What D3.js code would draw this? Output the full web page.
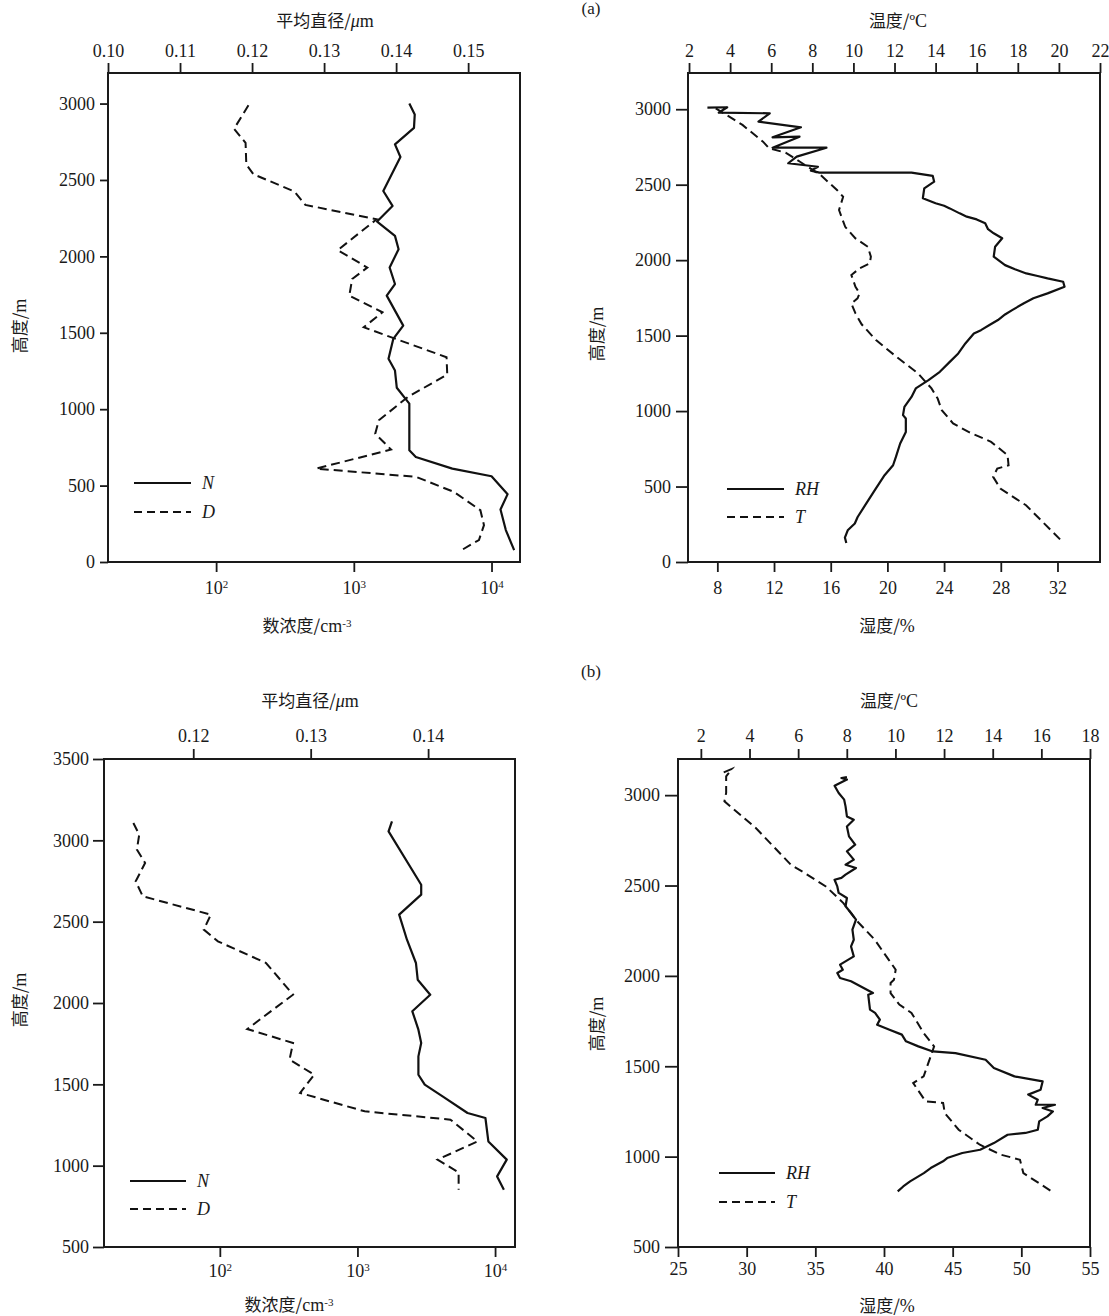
<!DOCTYPE html>
<html>
<head>
<meta charset="utf-8">
<script src="https://cdn.jsdelivr.net/npm/d3@7"></script>
<style>
body { margin: 0; background: #fff; }
svg text { font-family: "Liberation Serif", "Times New Roman", serif; fill: #1a1a1a; }
</style>
</head>
<body>
<svg id="fig" width="1109" height="1316"></svg>
<script>
// ---- data: [value, height(m)] ----
// (a) aerosol: number concentration N (cm^-3) and mean diameter D (um)
const aN = [[2530,3000],[2770,2929],[2735,2841],[1990,2733],[2180,2650],[1637,2428],[1910,2330],
  [1476,2228],[1990,2134],[2114,2047],[1820,1927],[1990,1819],[1734,1743],[2285,1547],[1934,1460],
  [1786,1330],[1990,1253],[2052,1140],[2530,1036],[2530,731],[2820,687],[5190,611],[10000,561],
  [13090,444],[11620,344],[12700,209],[14600,78]];
const aD = [[0.1195,2989],[0.1175,2835],[0.1191,2743],[0.1192,2602],[0.1202,2537],[0.1259,2424],
  [0.1274,2337],[0.1373,2243],[0.1319,2041],[0.1360,1927],[0.1339,1852],[0.1335,1743],[0.1381,1634],
  [0.1355,1536],[0.1470,1340],[0.1471,1227],[0.1416,1079],[0.1376,927],[0.1371,840],[0.1393,736],
  [0.1289,611],[0.1428,557],[0.1480,459],[0.1517,339],[0.1522,241],[0.1515,144],[0.1487,67]];
// (a) meteorology: relative humidity RH (%) and temperature T (degC)
const aRH = [[7.3,3011],[8.7,3013],[8.1,2977],[11.7,2973],[10.9,2918],[13.9,2880],[11.9,2814],
  [13.8,2818],[11.9,2745],[15.7,2745],[13.6,2686],[13.0,2642],[15.1,2619],[14.6,2593],[15.2,2580],
  [21.7,2580],[23.2,2558],[23.3,2520],[22.6,2476],[22.5,2410],[23.4,2377],[24.0,2360],[24.4,2343],
  [25.1,2310],[25.6,2288],[26.3,2270],[26.9,2244],[27.1,2205],[27.5,2178],[28.1,2145],[27.6,2089],
  [27.5,2023],[28.3,1967],[29.0,1940],[29.8,1912],[30.6,1895],[31.3,1879],[32.4,1857],[32.5,1824],
  [31.3,1780],[30.3,1747],[29.6,1713],[28.8,1669],[28.3,1640],[27.8,1603],[27.2,1570],[26.6,1536],
  [26.1,1514],[25.5,1448],[25.0,1382],[24.4,1326],[23.7,1260],[22.9,1205],[22.0,1150],[21.7,1094],
  [21.2,1028],[21.1,973],[21.3,951],[21.3,862],[20.9,785],[20.6,696],[20.4,641],[19.8,575],
  [19.1,475],[18.5,387],[17.9,298],[17.7,255],[17.2,210],[17.0,162],[17.1,126]];
const aT = [[3.3,3006],[4.6,2896],[5.6,2785],[5.9,2741],[6.7,2712],[7.4,2652],[8.4,2564],[9.2,2465],
  [9.5,2420],[9.3,2332],[9.6,2221],[10.1,2144],[10.7,2089],[10.85,2023],[10.8,1979],[10.3,1946],
  [9.9,1901],[10.1,1824],[10.3,1780],[10.2,1747],[9.9,1713],[10.1,1647],[10.4,1575],[11.1,1470],
  [12.1,1359],[13.15,1249],[13.8,1150],[14.1,1083],[14.3,1006],[14.85,918],[15.6,862],[16.7,796],
  [17.5,708],[17.55,641],[17.0,619],[16.8,564],[17.15,487],[17.9,420],[18.4,376],[20.1,144]];
// (b) aerosol
const bN = [[1782,3117],[1683,3055],[2906,2727],[2906,2666],[2010,2543],[2290,2389],[2661,2246],
  [2741,2143],[3380,2051],[2505,1949],[2773,1836],[2906,1754],[2773,1672],[2773,1559],[3083,1498],
  [4156,1426],[6310,1324],[8510,1293],[8940,1149],[12160,1037],[10350,934],[11590,852]];
const bD = [[0.1149,3107],[0.1154,3035],[0.1152,2943],[0.1159,2861],[0.1151,2748],[0.1157,2656],
  [0.1215,2543],[0.1209,2451],[0.1221,2379],[0.1262,2246],[0.1285,2051],[0.1246,1840],[0.1285,1754],
  [0.1282,1652],[0.1303,1559],[0.1291,1447],[0.1346,1334],[0.1419,1283],[0.1442,1149],[0.1408,1037],
  [0.1426,959],[0.1426,852]];
// (b) meteorology
const bRH = [[37.3,3100],[36.9,3095],[37.3,3086],[36.4,3052],[36.7,3012],[37.1,2975],[37.2,2938],
  [37.3,2882],[37.8,2864],[37.3,2827],[37.45,2772],[37.9,2726],[37.3,2689],[37.8,2643],[37.2,2615],
  [37.96,2597],[37.2,2560],[36.9,2542],[36.4,2532],[36.6,2495],[36.7,2459],[37.3,2431],[37.2,2385],
  [37.6,2348],[37.96,2311],[37.7,2256],[37.8,2200],[37.6,2163],[37.8,2108],[36.8,2062],[37.0,2034],
  [36.6,2016],[36.8,1988],[37.6,1970],[39.2,1905],[38.85,1896],[38.98,1813],[39.35,1795],[39.7,1758],
  [39.5,1730],[40.4,1702],[41.3,1675],[41.6,1638],[42.5,1610],[43.55,1582],[45.2,1573],[47.4,1536],
  [48.0,1490],[49.5,1444],[51.55,1416],[51.4,1370],[50.5,1343],[51.2,1315],[51.05,1287],[52.45,1287],
  [51.55,1269],[52.3,1250],[51.9,1223],[51.3,1195],[51.2,1149],[50.3,1131],[49.0,1121],[48.0,1075],
  [47.0,1038],[45.7,1020],[44.6,992],[44.3,974],[43.4,937],[42.9,909],[41.9,863],[41.4,835],[41.0,808]];
const bT = [[2.94,3126],[3.28,3145],[3.04,3104],[3.04,3012],[2.97,2966],[4.26,2818],[5.7,2615],
  [6.27,2569],[7.14,2495],[7.86,2403],[8.43,2302],[9.15,2200],[9.72,2090],[10.01,2034],[9.94,1979],
  [9.8,1961],[9.8,1905],[10.16,1841],[10.66,1795],[11.16,1684],[11.59,1610],[11.45,1555],
  [11.16,1444],[10.73,1407],[11.24,1306],[11.96,1297],[12.03,1241],[12.6,1149],[13.47,1066],
  [14.33,1011],[15.12,983],[15.26,909],[16.42,808]];

// ---- tick values ----
const aTopTicks = [0.10, 0.11, 0.12, 0.13, 0.14, 0.15];
const bTopTicks = [0.12, 0.13, 0.14];
const logTicks = [100, 1000, 10000];
const aTempTicks = d3.range(2, 23, 2);
const bTempTicks = d3.range(2, 19, 2);
const aRHTicks = [8, 12, 16, 20, 24, 28, 32];
const bRHTicks = [25, 30, 35, 40, 45, 50, 55];
const aHeightTicks = d3.range(0, 3001, 500);
const bHeightTicks = d3.range(500, 3501, 500);
const dHeightTicks = d3.range(500, 3001, 500);

const svg = d3.select("#fig");
const serif = '"Liberation Serif","Times New Roman",serif';
const cjk = '"Noto Sans CJK SC","Noto Sans CJK JP",sans-serif';

function styleAxis(g) {
  g.select(".domain").remove();
  g.attr("font-size", 18).attr("font-family", serif);
  g.selectAll(".tick line").attr("stroke", "#1a1a1a").attr("stroke-width", 1.8);
  g.selectAll(".tick text").attr("fill", "#1a1a1a");
}

function powerLabels(g) {
  g.selectAll(".tick text").each(function (d) {
    const t = d3.select(this);
    t.text("10");
    t.append("tspan").attr("dy", "-0.55em").attr("font-size", 11)
      .text(Math.round(Math.log10(d)));
  });
}

function title(x, y, cn, latin, rotate) {
  const t = svg.append("text")
    .attr("text-anchor", "middle")
    .attr("font-size", 17)
    .attr("transform", rotate ? `translate(${x},${y}) rotate(-90)` : `translate(${x},${y})`);
  t.append("tspan").attr("font-family", cjk).text(cn);
  latin.forEach(p => {
    const s = t.append("tspan").attr("font-family", serif).attr("font-size", 18).text(p.t);
    if (p.italic) s.attr("font-style", "italic");
    if (p.sup) s.attr("dy", "-0.5em").attr("font-size", 11);
  });
}

function legend(x1, x2, y, label, dashed) {
  svg.append("line").attr("x1", x1).attr("x2", x2).attr("y1", y).attr("y2", y)
    .attr("stroke", "#111").attr("stroke-width", 2)
    .attr("stroke-dasharray", dashed ? "8,5" : null);
  svg.append("text").attr("x", x2 + 11).attr("y", y + 6)
    .attr("font-size", 18).attr("font-style", "italic").text(label);
}

function panel(c) {
  const y = d3.scaleLinear().domain(c.hDomain).range([c.bottom, c.top]);
  const xTop = d3.scaleLinear().domain(c.topDomain).range([c.left, c.right]);
  const xBot = (c.log ? d3.scaleLog() : d3.scaleLinear()).domain(c.botDomain).range([c.left, c.right]);

  svg.append("g").attr("transform", `translate(0,${c.top})`)
    .call(d3.axisTop(xTop).tickValues(c.topTicks).tickFormat(c.topFmt)
      .tickSize(10).tickPadding(c.topPad).tickSizeOuter(0))
    .call(styleAxis);

  const gb = svg.append("g").attr("transform", `translate(0,${c.bottom})`)
    .call(d3.axisBottom(xBot).tickValues(c.botTicks).tickFormat(c.log ? () => "" : d3.format("d"))
      .tickSize(10).tickPadding(c.botPad).tickSizeOuter(0))
    .call(styleAxis);
  if (c.log) gb.call(powerLabels);

  svg.append("g").attr("transform", `translate(${c.left},0)`)
    .call(d3.axisLeft(y).tickValues(c.hTicks).tickFormat(d3.format("d"))
      .tickSize(c.leftTick).tickPadding(c.leftPad).tickSizeOuter(0))
    .call(styleAxis);

  svg.append("rect")
    .attr("x", c.left).attr("y", c.top)
    .attr("width", c.right - c.left).attr("height", c.bottom - c.top)
    .attr("fill", "none").attr("stroke", "#1a1a1a").attr("stroke-width", 2);

  const solid = d3.line().x(d => xBot(d[0])).y(d => y(d[1]));
  const dash = d3.line().x(d => xTop(d[0])).y(d => y(d[1]));

  svg.append("path").datum(c.solid).attr("d", solid)
    .attr("fill", "none").attr("stroke", "#111").attr("stroke-width", 2.2)
    .attr("stroke-linejoin", "round");
  svg.append("path").datum(c.dashed).attr("d", dash)
    .attr("fill", "none").attr("stroke", "#111").attr("stroke-width", 2)
    .attr("stroke-dasharray", "9,5");
}

// (a) left: aerosol
panel({
  left: 108, right: 520, top: 73, bottom: 562,
  hDomain: [0, 3200], hTicks: aHeightTicks, leftTick: 8, leftPad: 5,
  topDomain: [0.10, 0.1572], topTicks: aTopTicks, topFmt: d3.format(".2f"), topPad: 6,
  log: true, botDomain: [16.4, 16100], botTicks: logTicks, botPad: 9,
  solid: aN, dashed: aD
});
// (a) right: RH and T
panel({
  left: 688, right: 1100, top: 73, bottom: 562,
  hDomain: [0, 3240], hTicks: aHeightTicks, leftTick: 12, leftPad: 5,
  topDomain: [1.95, 22], topTicks: aTempTicks, topFmt: d3.format("d"), topPad: 6,
  log: false, botDomain: [5.93, 35], botTicks: aRHTicks, botPad: 9,
  solid: aRH, dashed: aT
});
// (b) left: aerosol
panel({
  left: 104, right: 515, top: 759, bottom: 1247,
  hDomain: [500, 3500], hTicks: bHeightTicks, leftTick: 11, leftPad: 4,
  topDomain: [0.1124, 0.1474], topTicks: bTopTicks, topFmt: d3.format(".2f"), topPad: 7,
  log: true, botDomain: [14.4, 13960], botTicks: logTicks, botPad: 7,
  solid: bN, dashed: bD
});
// (b) right: RH and T
panel({
  left: 678, right: 1090, top: 759, bottom: 1247,
  hDomain: [500, 3200], hTicks: dHeightTicks, leftTick: 13, leftPad: 5,
  topDomain: [1.06, 18], topTicks: bTempTicks, topFmt: d3.format("d"), topPad: 7,
  log: false, botDomain: [25, 55], botTicks: bRHTicks, botPad: 5,
  solid: bRH, dashed: bT
});

// axis titles
title(325, 27, "平均直径/", [{ t: "μ", italic: true }, { t: "m" }]);
title(307, 632, "数浓度/", [{ t: "cm" }, { t: "-3", sup: true }]);
title(26, 326, "高度/", [{ t: "m" }], true);
title(898, 27, "温度/", [{ t: "ºC" }]);
title(887, 632, "湿度/", [{ t: "%" }]);
title(603, 334, "高度/", [{ t: "m" }], true);

title(310, 707, "平均直径/", [{ t: "μ", italic: true }, { t: "m" }]);
title(289, 1311, "数浓度/", [{ t: "cm" }, { t: "-3", sup: true }]);
title(26, 1000, "高度/", [{ t: "m" }], true);
title(889, 707, "温度/", [{ t: "ºC" }]);
title(887, 1312, "湿度/", [{ t: "%" }]);
title(603, 1024, "高度/", [{ t: "m" }], true);

// panel tags
svg.append("text").attr("x", 591).attr("y", 14).attr("text-anchor", "middle")
  .attr("font-size", 17).text("(a)");
svg.append("text").attr("x", 591).attr("y", 677).attr("text-anchor", "middle")
  .attr("font-size", 17).text("(b)");

// legends
legend(134, 191, 483, "N", false);
legend(134, 191, 512, "D", true);
legend(727, 784, 489, "RH", false);
legend(727, 784, 517, "T", true);
legend(130, 186, 1181, "N", false);
legend(130, 186, 1209, "D", true);
legend(719, 775, 1173, "RH", false);
legend(719, 775, 1202, "T", true);
</script>
</body>
</html>
